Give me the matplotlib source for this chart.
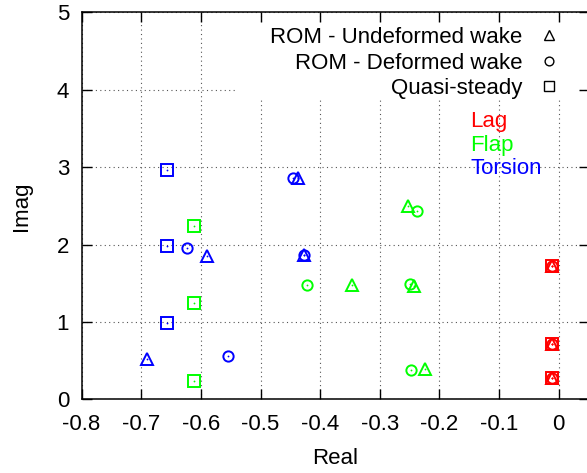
"""Eigenvalue map of the rotor blade modes: ROM wakes vs quasi-steady aero."""

import matplotlib
matplotlib.use("Agg")
import matplotlib.pyplot as plt
from matplotlib.patches import Rectangle

plt.rcParams["font.family"] = ["Liberation Sans", "DejaVu Sans"]
plt.rcParams["font.size"] = 16

# ROM - undeformed wake
undef_lag_re = [-0.011, -0.011, -0.011]
undef_lag_im = [1.716, 0.713, 0.279]
undef_flap_re = [-0.253, -0.347, -0.243, -0.224]
undef_flap_im = [2.497, 1.476, 1.469, 0.395]
undef_tors_re = [-0.438, -0.427, -0.590, -0.691]
undef_tors_im = [2.855, 1.868, 1.855, 0.516]

# ROM - deformed wake
def_lag_re = [-0.011, -0.011, -0.011]
def_lag_im = [1.716, 0.713, 0.279]
def_flap_re = [-0.237, -0.422, -0.249, -0.247]
def_flap_im = [2.433, 1.473, 1.490, 0.379]
def_tors_re = [-0.446, -0.427, -0.624, -0.555]
def_tors_im = [2.864, 1.868, 1.958, 0.557]

# quasi-steady
qs_lag_re = [-0.011, -0.011, -0.011]
qs_lag_im = [1.716, 0.713, 0.279]
qs_flap_re = [-0.612, -0.612, -0.612]
qs_flap_im = [2.236, 1.238, 0.239]
qs_tors_re = [-0.656, -0.656, -0.656]
qs_tors_im = [2.965, 1.977, 0.986]

mode_names = ["Lag", "Flap", "Torsion"]
mode_colors = ["#ff0000", "#00ff00", "#0000ff"]
method_labels = ["ROM - Undeformed wake", "ROM - Deformed wake", "Quasi-steady"]

fig = plt.figure(figsize=(5.87, 4.73), dpi=100)
ax = fig.add_axes([81.6 / 587, 73.8 / 473, 507 / 587, 386.7 / 473])

methods = [
    ("^", 8.2, [(undef_lag_re, undef_lag_im), (undef_flap_re, undef_flap_im),
                (undef_tors_re, undef_tors_im)]),
    ("o", 7.4, [(def_lag_re, def_lag_im), (def_flap_re, def_flap_im),
                (def_tors_re, def_tors_im)]),
    ("s", 8.0, [(qs_lag_re, qs_lag_im), (qs_flap_re, qs_flap_im),
                (qs_tors_re, qs_tors_im)]),
]

for marker, ms, modes in methods:
    for (re, im), color in zip(modes, mode_colors):
        ax.plot(re, im, linestyle="none", marker=marker, ms=ms, mfc="none",
                mec=color, mew=1.4, zorder=3)
        ax.plot(re, im, linestyle="none", marker="o", ms=1.3, mfc=color,
                mec=color, mew=0, zorder=3)

ax.set_xlim(-0.8, 0.05)
ax.set_ylim(0, 5)
ax.set_xticks([-0.8, -0.7, -0.6, -0.5, -0.4, -0.3, -0.2, -0.1, 0])
ax.set_xticklabels(["-0.8", "-0.7", "-0.6", "-0.5", "-0.4", "-0.3", "-0.2", "-0.1", "0"])
ax.set_yticks([0, 1, 2, 3, 4, 5])

ax.set_axisbelow(True)
ax.grid(True, color="#555555", linestyle=(0, (1, 3)), linewidth=0.8)
ax.tick_params(direction="in", length=7, width=1, top=True, right=True,
               labelsize=16)
ax.tick_params(axis="x", pad=11)
ax.tick_params(axis="y", pad=9)
for sp in ax.spines.values():
    sp.set_linewidth(1.1)

# white key background hides the grid behind the legend
ax.add_patch(Rectangle((0.3065, 0.776), 0.6705, 0.194, transform=ax.transAxes,
                       facecolor="white", edgecolor="none", zorder=1))

handles = [plt.Line2D([], [], linestyle="none", marker=m, ms=ms * 0.85, mfc="none",
                      mec="black", mew=1.0) for m, ms, _ in methods]
ax.legend(handles, method_labels, loc="upper right", frameon=False,
          markerfirst=False, handlelength=1.0, handletextpad=0.7,
          borderpad=0, labelspacing=0.2, fontsize=16,
          bbox_to_anchor=(571 / 587, 1 - 16 / 473),
          bbox_transform=fig.transFigure)

for name, color, y in zip(mode_names, mode_colors, [3.594, 3.284, 2.987]):
    ax.text(-0.148, y, name, color=color, fontsize=16, ha="left", va="center",
            zorder=4)

ax.set_xlabel("Real", fontsize=16, labelpad=9)
ax.set_ylabel("Imag", fontsize=16, labelpad=18)

fig.savefig("out.png", dpi=100)
